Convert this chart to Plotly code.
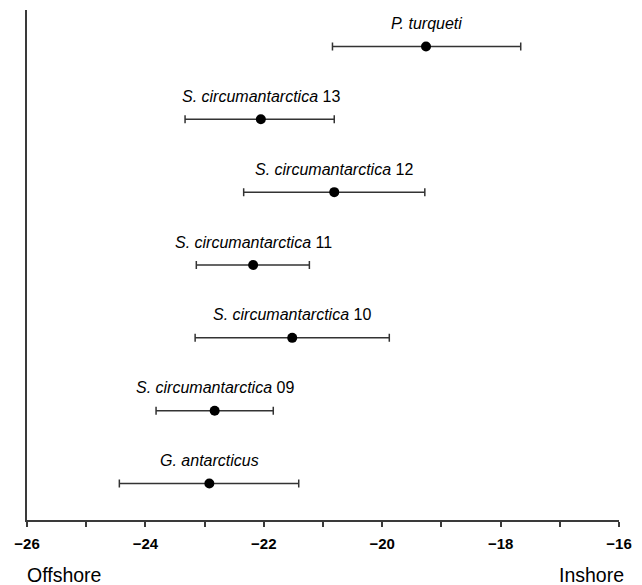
import plotly.graph_objects as go

species = ["G. antarcticus", "S. circumantarctica", "S. circumantarctica", "S. circumantarctica",
           "S. circumantarctica", "S. circumantarctica", "P. turqueti"]
suffix = ["", "09", "10", "11", "12", "13", ""]
mean = [-22.92, -22.83, -21.52, -22.18, -20.81, -22.05, -19.26]
low = [-24.44, -23.82, -23.16, -23.14, -22.34, -23.33, -20.84]
high = [-21.41, -21.84, -19.88, -21.23, -19.28, -20.81, -17.66]
tick_vals = [-26, -24, -22, -20, -18, -16]

ypos = list(range(len(mean)))
err_plus = [h - m for h, m in zip(high, mean)]
err_minus = [m - l for m, l in zip(mean, low)]

fig = go.Figure()
fig.add_trace(go.Scatter(
    x=mean, y=ypos, mode="markers",
    marker=dict(color="black", size=10),
    error_x=dict(type="data", symmetric=False, array=err_plus, arrayminus=err_minus,
                 color="#333333", thickness=1.5, width=4),
    showlegend=False, hoverinfo="x",
))

for sp, sf, m, y in zip(species, suffix, mean, ypos):
    txt = f"<i>{sp}</i>" + (f" {sf}" if sf else "")
    fig.add_annotation(x=m, y=y, text=txt, showarrow=False, yshift=23,
                       font=dict(family="Liberation Sans, Arial", size=16, color="black"))

fig.add_annotation(xref="paper", yref="paper", x=0, y=-0.107, xanchor="left", yanchor="middle",
                   text="Offshore", showarrow=False, xshift=-2,
                   font=dict(family="Liberation Sans, Arial", size=19.5, color="black"))
fig.add_annotation(xref="paper", yref="paper", x=1, y=-0.107, xanchor="right", yanchor="middle",
                   text="Inshore", showarrow=False, xshift=7,
                   font=dict(family="Liberation Sans, Arial", size=19.5, color="black"))

fig.update_layout(
    width=642, height=585,
    margin=dict(l=27, r=20, t=10, b=65),
    plot_bgcolor="white", paper_bgcolor="white",
    xaxis=dict(range=[-26, -16], tickvals=tick_vals, showgrid=False, zeroline=False,
               showline=True, linecolor="#3a3a3a", linewidth=2,
               ticks="outside", ticklen=5, tickwidth=1.5, tickcolor="#3a3a3a",
               minor=dict(dtick=1, ticks="outside", ticklen=5, tickwidth=1.5, tickcolor="#3a3a3a"),
               tickfont=dict(family="Liberation Sans, Arial", size=15, color="black", weight="bold"),
               ticklabelstandoff=4),
    yaxis=dict(range=[-0.5, 6.5], showgrid=False, zeroline=False, showticklabels=False,
               showline=True, linecolor="#3a3a3a", linewidth=2, ticks=""),
)

fig.write_html("out.html")
